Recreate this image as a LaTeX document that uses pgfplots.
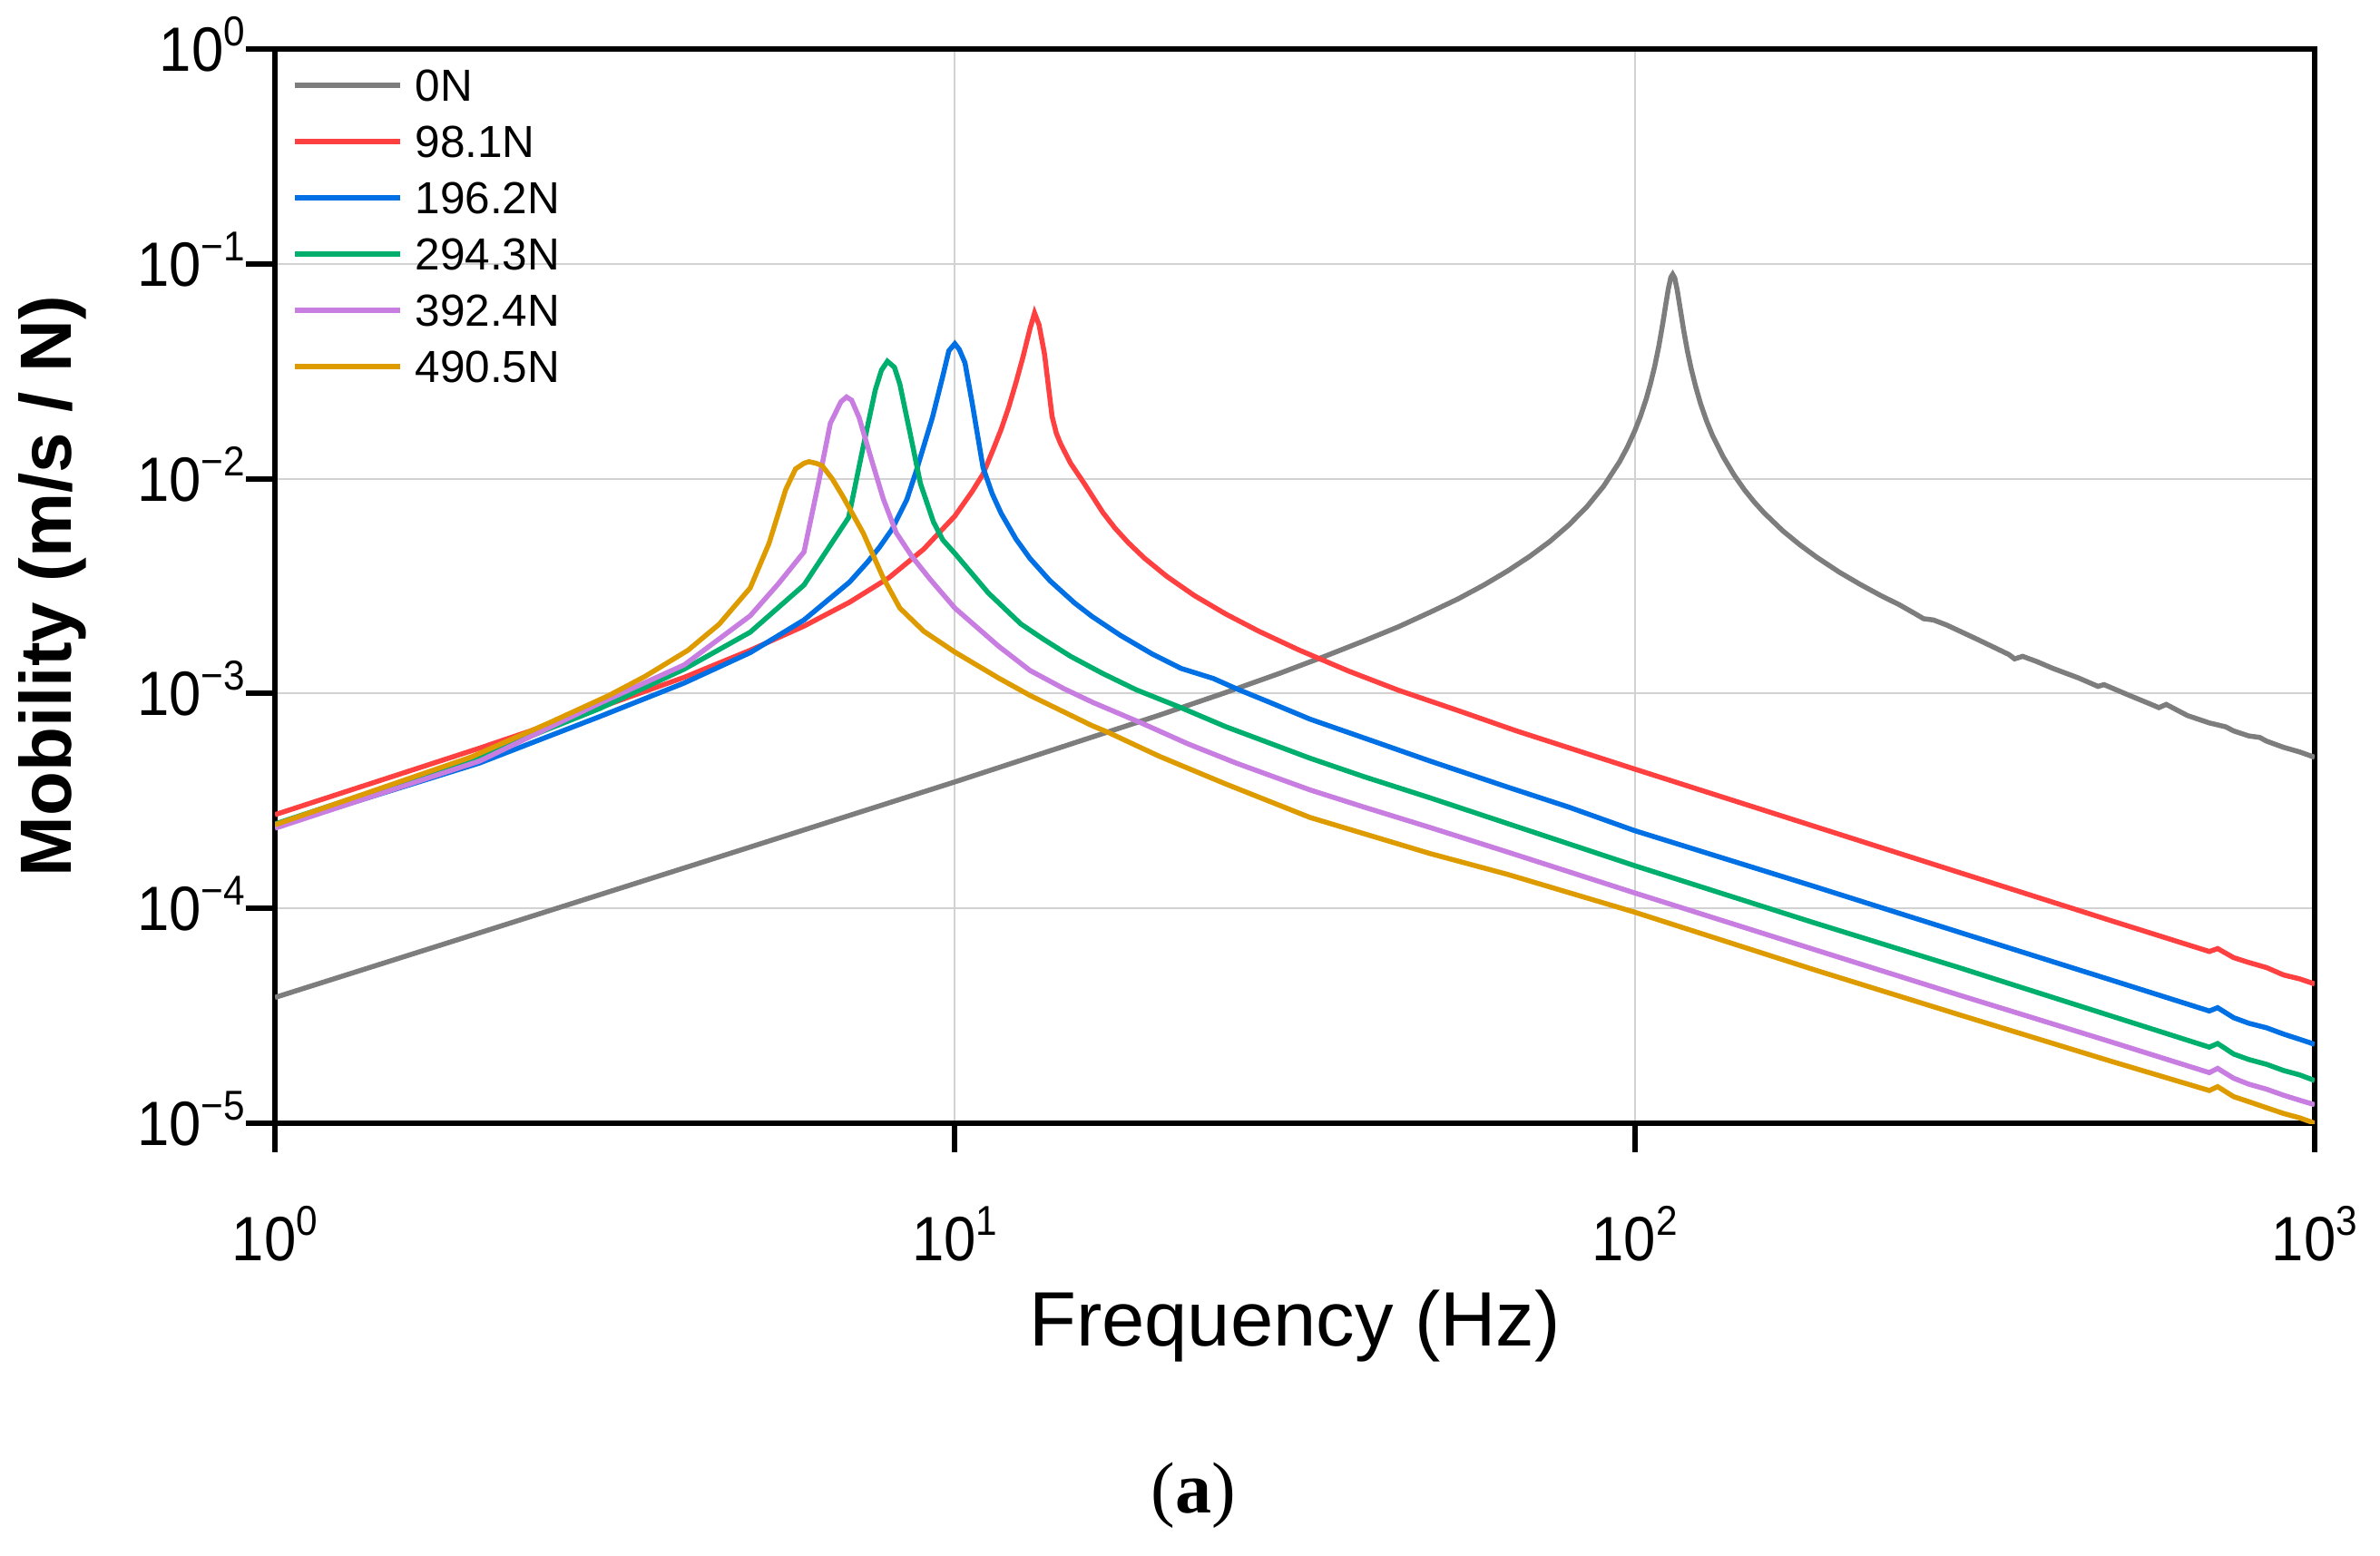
\documentclass[border=0pt]{standalone}
\usepackage{fontspec}
\setmainfont{Liberation Sans}
\newfontfamily\seriffam{Liberation Serif}
\newfontfamily\tickfont[FakeStretch=0.92]{Liberation Sans}
\usepackage{pgfplots}
\usepackage{pgfplotstable}
\pgfplotsset{compat=1.18}

\definecolor{cgray}{RGB}{125,125,125}
\definecolor{cred}{RGB}{255,64,64}
\definecolor{cblue}{RGB}{0,112,228}
\definecolor{cgreen}{RGB}{0,175,110}
\definecolor{cpurple}{RGB}{200,125,225}
\definecolor{corange}{RGB}{222,155,0}
\definecolor{cgrid}{RGB}{210,210,210}

\newcommand{\tl}[1]{10\raisebox{5.6bp}{\fontsize{9.2bp}{9.2bp}\selectfont #1}}

\pgfplotstableread{
f y
1 3.85e-5
2 7.70e-5
5 1.93e-4
10 3.88e-4
20 7.94e-4
25 1.01e-3
30 1.24e-3
35 1.49e-3
40 1.76e-3
45 2.05e-3
50 2.39e-3
55 2.76e-3
60 3.20e-3
65 3.72e-3
70 4.34e-3
75 5.10e-3
80 6.09e-3
85 7.39e-3
90 9.23e-3
95 1.20e-2
97.5 1.40e-2
100 1.67e-2
102 1.96e-2
104 2.36e-2
105.5 2.78e-2
107 3.34e-2
108.5 4.14e-2
110 5.32e-2
111 6.38e-2
112 7.61e-2
113 8.66e-2
113.7 8.93e-2
114.5 8.59e-2
115.5 7.52e-2
116.5 6.34e-2
118 4.92e-2
119.5 3.94e-2
121 3.27e-2
123 2.66e-2
125 2.23e-2
127.5 1.86e-2
130 1.60e-2
135 1.26e-2
140 1.04e-2
145 8.87e-3
150 7.77e-3
155 6.93e-3
165 5.73e-3
175 4.92e-3
185 4.32e-3
200 3.67e-3
215 3.21e-3
230 2.86e-3
245 2.59e-3
258 2.36e-3
266 2.23e-3
275 2.20e-3
288 2.08e-3
320 1.78e-3
355 1.52e-3
362 1.45e-3
372 1.49e-3
390 1.41e-3
412 1.31e-3
450 1.18e-3
480 1.08e-3
490 1.10e-3
530 9.9e-4
575 8.9e-4
590 8.6e-4
605 8.9e-4
650 7.9e-4
700 7.3e-4
740 7.0e-4
760 6.7e-4
800 6.35e-4
830 6.25e-4
850 6.0e-4
900 5.62e-4
950 5.35e-4
1000 5.05e-4
}\tgray

\pgfplotstableread{
f y
1 2.73e-4
2 5.57e-4
3 8.60e-4
4 1.19e-3
5 1.59e-3
6 2.06e-3
7 2.66e-3
8 3.46e-3
9 4.70e-3
10 6.7e-3
10.6 8.7e-3
11 1.05e-2
11.4 1.38e-2
11.7 1.70e-2
12 2.15e-2
12.3 2.80e-2
12.6 3.7e-2
12.9 5.0e-2
13.1 5.9e-2
13.3 5.2e-2
13.55 3.8e-2
13.75 2.59e-2
13.9 1.95e-2
14.1 1.63e-2
14.3 1.46e-2
14.55 1.31e-2
14.8 1.18e-2
15.5 9.5e-3
16.5 6.98e-3
17.2 5.89e-3
18 5.03e-3
19 4.27e-3
20.5 3.51e-3
22.5 2.86e-3
25 2.35e-3
28 1.95e-3
32 1.60e-3
38 1.27e-3
45 1.034e-3
55 8.33e-4
67 6.7e-4
80 5.59e-4
100 4.45e-4
183 2.42e-4
300 1.47e-4
500 8.8e-5
700 6.3e-5
720 6.5e-5
760 5.9e-5
800 5.6e-5
850 5.3e-5
900 4.9e-5
950 4.7e-5
1000 4.45e-5
}\tred

\pgfplotstableread{
f y
1 2.40e-4
2 4.75e-4
3 7.8e-4
4 1.12e-3
5 1.55e-3
6 2.2e-3
7 3.3e-3
7.43 4.07e-3
7.75 4.8e-3
8.08 5.8e-3
8.5 8.0e-3
8.77 1.08e-2
9.05 1.50e-2
9.27 1.93e-2
9.6 3.0e-2
9.8 3.94e-2
10.0 4.25e-2
10.15 4.0e-2
10.35 3.46e-2
10.6 2.27e-2
11.0 1.13e-2
11.35 8.5e-3
11.7 6.89e-3
12.3 5.24e-3
12.9 4.25e-3
13.8 3.35e-3
15 2.64e-3
15.9 2.29e-3
17.5 1.87e-3
19.5 1.53e-3
21.5 1.31e-3
24 1.175e-3
26 1.05e-3
29 9.12e-4
33.3 7.6e-4
40 6.21e-4
50 4.85e-4
65 3.67e-4
80 2.96e-4
100 2.30e-4
183 1.27e-4
300 7.75e-5
500 4.66e-5
700 3.33e-5
720 3.45e-5
760 3.1e-5
800 2.92e-5
850 2.78e-5
900 2.6e-5
950 2.46e-5
1000 2.33e-5
}\tblue

\pgfplotstableread{
f y
1 2.47e-4
2 5.1e-4
3 8.5e-4
4 1.30e-3
5 1.93e-3
6 3.2e-3
6.98 6.6e-3
7.33 1.4e-2
7.64 2.59e-2
7.8 3.2e-2
7.96 3.52e-2
8.15 3.3e-2
8.3 2.76e-2
8.45 2.1e-2
8.59 1.64e-2
8.9 9.5e-3
9.3 6.3e-3
9.6 5.19e-3
10 4.49e-3
11.2 2.94e-3
12.5 2.11e-3
13.5 1.79e-3
14.8 1.49e-3
16.5 1.24e-3
18.5 1.04e-3
21.5 8.6e-4
25 7.02e-4
33.3 5.0e-4
40 4.10e-4
50 3.27e-4
100 1.58e-4
183 8.6e-5
300 5.3e-5
500 3.17e-5
700 2.26e-5
720 2.35e-5
760 2.1e-5
800 1.98e-5
850 1.88e-5
900 1.76e-5
950 1.68e-5
1000 1.58e-5
}\tgreen

\pgfplotstableread{
f y
1 2.36e-4
2 4.85e-4
3 9.0e-4
4 1.36e-3
5 2.3e-3
5.5 3.24e-3
6.0 4.56e-3
6.3 9.5e-3
6.56 1.81e-2
6.8 2.28e-2
6.93 2.4e-2
7.05 2.32e-2
7.23 1.93e-2
7.54 1.23e-2
7.85 8.05e-3
8.2 5.6e-3
8.65 4.34e-3
9.2 3.4e-3
10 2.5e-3
11.6 1.66e-3
12.9 1.28e-3
14.5 1.05e-3
16 9.06e-4
18.8 7.3e-4
22 5.84e-4
26 4.73e-4
33.3 3.56e-4
40 2.96e-4
50 2.38e-4
65 1.83e-4
100 1.18e-4
183 6.46e-5
300 3.95e-5
500 2.4e-5
700 1.72e-5
720 1.8e-5
760 1.62e-5
800 1.52e-5
850 1.44e-5
900 1.35e-5
950 1.28e-5
1000 1.22e-5
}\tpurple

\pgfplotstableread{
f y
1 2.45e-4
1.94 5.05e-4
2.53 7.3e-4
3.1 9.8e-4
3.5 1.2e-3
4.05 1.59e-3
4.5 2.1e-3
5.0 3.1e-3
5.33 5.0e-3
5.64 8.9e-3
5.83 1.11e-2
6.0 1.18e-2
6.1 1.20e-2
6.25 1.18e-2
6.38 1.15e-2
6.6 1.0e-2
6.84 8.3e-3
7.33 5.6e-3
7.85 3.45e-3
8.3 2.5e-3
9 1.95e-3
10 1.56e-3
11.6 1.18e-3
12.9 9.8e-4
15.9 7.1e-4
16.8 6.6e-4
20 5.1e-4
25 3.8e-4
33.3 2.65e-4
50 1.8e-4
65 1.44e-4
100 9.6e-5
183 5.2e-5
300 3.2e-5
500 1.95e-5
700 1.42e-5
720 1.48e-5
760 1.33e-5
800 1.26e-5
850 1.18e-5
900 1.11e-5
950 1.06e-5
1000 1.0e-5
}\torange

\begin{document}
\begin{tikzpicture}
\useasboundingbox (-60.6bp,-95.4bp) rectangle (464bp,247.6bp);
\begin{axis}[
  at={(0,0)}, anchor=south west,
  scale only axis, width=449.6bp, height=236.8bp,
  xmode=log, ymode=log,
  xmin=1, xmax=1000, ymin=1e-5, ymax=1,
  xtick={1,10,100,1000},
  xticklabels={\tl{0},\tl{1},\tl{2},\tl{3}},
  ytick={1e-5,1e-4,1e-3,1e-2,1e-1,1},
  yticklabels={\tl{−5},\tl{−4},\tl{−3},\tl{−2},\tl{−1},\tl{0}},
  xminorticks=false, yminorticks=false,
  tick align=outside, major tick length=6.4bp,
  tick pos=left,
  axis line style={line width=1.2bp},
  every tick/.style={line width=1.2bp, black},
  grid=major, major grid style={line width=0.4bp, cgrid},
  ticklabel style={font=\tickfont\fontsize{13.8bp}{14bp}\selectfont},
  xticklabel style={anchor=base, yshift=-24bp, inner sep=0pt},
  yticklabel style={anchor=base east, inner sep=0pt, yshift=-4.9bp},
  xlabel={Frequency (Hz)},
  xlabel style={font=\fontsize{17bp}{17bp}\selectfont, at={(axis description cs:0.5,0)}, anchor=base, yshift=-49bp},
  ylabel={Mobility (m/s / N)},
  ylabel style={font=\fontsize{16bp}{16bp}\selectfont\bfseries, at={(axis description cs:-0.109,0.5)}, anchor=center},
  legend style={at={(axis description cs:0,1)}, anchor=north west, xshift=3.8bp, yshift=-4.45bp,
    draw=none, fill=none, inner sep=0pt, outer sep=0pt,
    font=\fontsize{9.9bp}{12bp}\selectfont, row sep=5.3bp, column sep=2.8bp,
    nodes={inner sep=0pt, text height=7.1bp, text depth=0pt}},
  legend cell align=left,
  legend image code/.code={\draw[#1, line width=1.1bp] (0bp,0bp) -- (23.2bp,0bp);},
  every axis plot/.append style={line width=1.1bp},
]
\addplot[cgray] table[x=f,y=y] {\tgray};
\addlegendentry{0N}
\addplot[cred] table[x=f,y=y] {\tred};
\addlegendentry{98.1N}
\addplot[cblue] table[x=f,y=y] {\tblue};
\addlegendentry{196.2N}
\addplot[cgreen] table[x=f,y=y] {\tgreen};
\addlegendentry{294.3N}
\addplot[cpurple] table[x=f,y=y] {\tpurple};
\addlegendentry{392.4N}
\addplot[corange] table[x=f,y=y] {\torange};
\addlegendentry{490.5N}
\end{axis}
\node[font=\seriffam\fontsize{16bp}{16bp}\selectfont] at (202.5bp,-82bp) {(\textbf{a})};
\end{tikzpicture}
\end{document}
